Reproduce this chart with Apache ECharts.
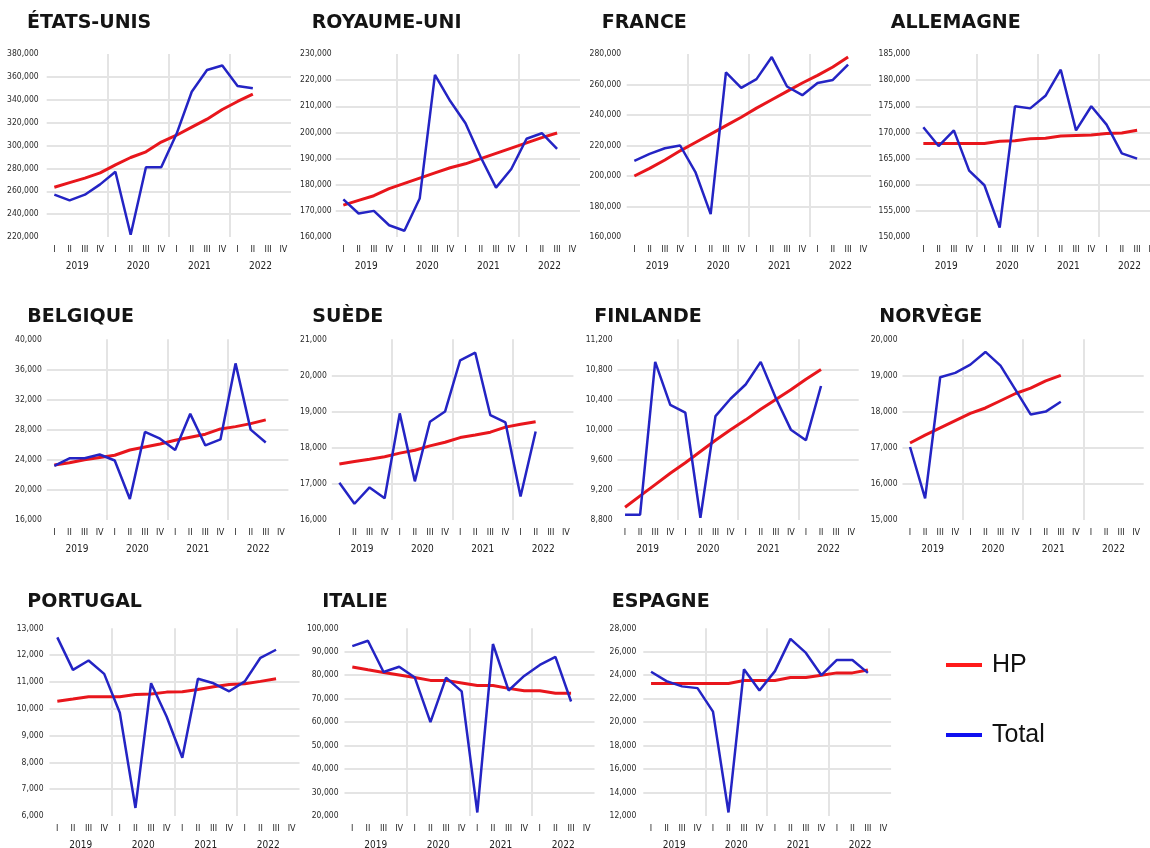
<!DOCTYPE html>
<html>
<head>
<meta charset="utf-8">
<script src="https://cdn.jsdelivr.net/npm/echarts@6/dist/echarts.min.js"></script>
<style>
  html, body { margin: 0; padding: 0; background: #ffffff; }
  #chart { width: 1150px; height: 848px; }
</style>
</head>
<body>
<div id="chart"></div>
<script>
// Quarter and year labels on the time axis
const quarterLabels = ['I', 'II', 'III', 'IV', 'I', 'II', 'III', 'IV', 'I', 'II', 'III', 'IV', 'I', 'II', 'III', 'IV'];
const yearLabels = ['2019', '2020', '2021', '2022'];
const seriesNames = ['HP', 'Total'];

// Quarterly values per country (Total = raw series, HP = Hodrick-Prescott trend)
const usTotal = [257000, 252000, 257000, 266000, 277000, 222000, 281000, 281000, 310000, 347000, 366000, 370000, 352000, 350000];
const usHp    = [263500, 267500, 271500, 276000, 283000, 289500, 294500, 303000, 309000, 316000, 323000, 331500, 338500, 345000];

const ukTotal = [174400, 169000, 170000, 164500, 162400, 174700, 222000, 212000, 203500, 190500, 178900, 186000, 197600, 199700, 193700];
const ukHp    = [172200, 174000, 175800, 178500, 180500, 182500, 184500, 186500, 188000, 190000, 192000, 194000, 196000, 198000, 199800];

const frTotal = [209900, 214500, 218200, 220000, 202600, 175000, 268000, 257800, 263500, 278000, 258700, 253000, 261000, 263000, 273000];
const frHp    = [200000, 205000, 210500, 216500, 222000, 227500, 233000, 238500, 244500, 250000, 255500, 261000, 266000, 271500, 278000];

const deTotal = [171000, 167400, 170400, 162700, 159900, 151800, 175000, 174600, 177000, 182000, 170400, 175000, 171500, 166000, 165000];
const deHp    = [167900, 167900, 167900, 167900, 167900, 168300, 168400, 168800, 168900, 169300, 169400, 169500, 169800, 169900, 170400];

const beTotal = [23200, 24200, 24200, 24700, 23900, 18800, 27700, 26800, 25300, 30100, 25900, 26700, 36800, 28000, 26300];
const beHp    = [23300, 23600, 24000, 24300, 24600, 25300, 25700, 26100, 26600, 27000, 27400, 28100, 28400, 28800, 29300];

const seTotal = [17030, 16450, 16900, 16600, 18950, 17070, 18720, 19000, 20420, 20630, 18900, 18700, 16650, 18450];
const seHp    = [17550, 17620, 17680, 17750, 17850, 17930, 18050, 18150, 18280, 18350, 18430, 18570, 18650, 18720];

const fiTotal = [8870, 8870, 10900, 10330, 10225, 8830, 10180, 10410, 10600, 10900, 10420, 10000, 9860, 10580];
const fiHp    = [8970, 9120, 9270, 9420, 9560, 9710, 9860, 10000, 10130, 10270, 10400, 10530, 10670, 10800];

const noTotal = [17020, 15600, 18950, 19070, 19300, 19650, 19270, 18600, 17920, 18000, 18270];
const noHp    = [17130, 17350, 17550, 17750, 17950, 18100, 18300, 18500, 18650, 18850, 19000];

const ptTotal = [12660, 11450, 11800, 11300, 9850, 6300, 10950, 9700, 8170, 11120, 10950, 10650, 11020, 11900, 12200];
const ptHp    = [10280, 10360, 10450, 10450, 10450, 10530, 10550, 10620, 10630, 10720, 10820, 10900, 10930, 11020, 11120];

const itTotal = [92400, 94700, 81400, 83600, 79000, 60000, 79000, 73100, 21500, 93300, 73500, 79700, 84400, 87800, 68800];
const itHp    = [83500, 82300, 81200, 80100, 79000, 77800, 77800, 76700, 75600, 75600, 74400, 73400, 73400, 72300, 72300];

const esTotal = [24300, 23500, 23050, 22900, 20900, 12300, 24500, 22700, 24350, 27100, 25900, 24000, 25300, 25300, 24200];
const esHp    = [23300, 23300, 23300, 23300, 23300, 23300, 23550, 23550, 23550, 23800, 23800, 24000, 24200, 24200, 24450];

// Panel definitions: title, series and value-axis range
const panels = [
  { title: 'ÉTATS-UNIS',  total: usTotal, hp: usHp, min: 220000, max: 380000, step: 20000 },
  { title: 'ROYAUME-UNI', total: ukTotal, hp: ukHp, min: 160000, max: 230000, step: 10000 },
  { title: 'FRANCE',      total: frTotal, hp: frHp, min: 160000, max: 280000, step: 20000 },
  { title: 'ALLEMAGNE',   total: deTotal, hp: deHp, min: 150000, max: 185000, step: 5000 },
  { title: 'BELGIQUE',    total: beTotal, hp: beHp, min: 16000,  max: 40000,  step: 4000 },
  { title: 'SUÈDE',       total: seTotal, hp: seHp, min: 16000,  max: 21000,  step: 1000 },
  { title: 'FINLANDE',    total: fiTotal, hp: fiHp, min: 8800,   max: 11200,  step: 400 },
  { title: 'NORVÈGE',     total: noTotal, hp: noHp, min: 15000,  max: 20000,  step: 1000 },
  { title: 'PORTUGAL',    total: ptTotal, hp: ptHp, min: 6000,   max: 13000,  step: 1000 },
  { title: 'ITALIE',      total: itTotal, hp: itHp, min: 20000,  max: 100000, step: 10000 },
  { title: 'ESPAGNE',     total: esTotal, hp: esHp, min: 12000,  max: 28000,  step: 2000 }
];

// Page layout of each small multiple (plot box, title anchor, label gap)
const layout = [
  { left: 46.7,  top: 54,    width: 244.3, height: 183,   tx: 27,    ty: 24,  gap: 8 },
  { left: 335.7, top: 54,    width: 244.3, height: 183,   tx: 311.7, ty: 24,  gap: 4 },
  { left: 626.7, top: 54,    width: 244.3, height: 183,   tx: 601.7, ty: 24,  gap: 5.5 },
  { left: 915.7, top: 54,    width: 244.3, height: 183,   tx: 890.7, ty: 24,  gap: 5.5 },
  { left: 46.8,  top: 339.3, width: 241.6, height: 180.7, tx: 27.3,  ty: 318, gap: 5 },
  { left: 331.8, top: 339.3, width: 241.6, height: 180.7, tx: 312.3, ty: 318, gap: 5 },
  { left: 617.5, top: 339.3, width: 241.2, height: 180.7, tx: 594.3, ty: 318, gap: 5 },
  { left: 902.5, top: 339.3, width: 241.2, height: 180.7, tx: 879.3, ty: 318, gap: 5 },
  { left: 49.5,  top: 628.3, width: 250,   height: 187.7, tx: 27.3,  ty: 603, gap: 6 },
  { left: 344.5, top: 628.3, width: 250,   height: 187.7, tx: 322.3, ty: 603, gap: 6 },
  { left: 643.3, top: 628.3, width: 247.8, height: 187.7, tx: 611.7, ty: 603, gap: 7 }
];

const RED = '#e8161c';
const BLUE = '#2424c4';
const GRID_GREY = '#e4e4e4';
const NARROW = '"DejaVu Sans Condensed", "Liberation Sans Narrow", sans-serif';
const TITLE_SIZE = 19;

const fmt = v => String(v).replace(/\B(?=(\d{3})+(?!\d))/g, ',');

const option = {
  backgroundColor: '#ffffff',
  animation: false,
  title: [],
  grid: [],
  xAxis: [],
  yAxis: [],
  series: [],
  legend: {
    orient: 'vertical',
    left: 941,
    top: 645,
    itemWidth: 36,
    itemHeight: 4,
    itemGap: 40,
    icon: 'rect',
    data: [
      { name: seriesNames[0], itemStyle: { color: '#ff1a1a' } },
      { name: seriesNames[1], itemStyle: { color: '#1010f0' } }
    ],
    textStyle: {
      fontFamily: '"Liberation Sans", Arial, sans-serif',
      fontSize: 25,
      lineHeight: 30,
      color: '#111',
      padding: [0, 0, 0, 5]
    }
  }
};

panels.forEach((p, i) => {
  const L = layout[i];
  option.title.push({
    text: p.title,
    left: L.tx,
    top: L.ty - TITLE_SIZE / 2 - 1,
    padding: 0,
    textStyle: {
      fontFamily: '"DejaVu Sans", sans-serif',
      fontWeight: 'bold',
      fontSize: TITLE_SIZE,
      lineHeight: TITLE_SIZE,
      color: '#141414'
    }
  });

  option.grid.push({
    left: L.left,
    top: L.top,
    width: L.width,
    height: L.height,
    containLabel: false,
    outerBoundsMode: 'none'
  });

  // quarter axis
  option.xAxis.push({
    type: 'category',
    gridIndex: i,
    data: quarterLabels,
    boundaryGap: true,
    axisLine: { show: false },
    axisTick: { show: false },
    axisLabel: {
      interval: 0,
      margin: 8,
      fontFamily: NARROW,
      fontSize: 9,
      color: '#222'
    },
    splitLine: { show: false }
  });
  // year row under the quarters
  option.xAxis.push({
    type: 'category',
    gridIndex: i,
    position: 'bottom',
    offset: 16,
    data: yearLabels,
    boundaryGap: true,
    axisLine: { show: false },
    axisTick: { show: false },
    splitLine: { show: false },
    axisLabel: {
      interval: 0,
      margin: 8,
      fontFamily: NARROW,
      fontSize: 10,
      color: '#222'
    }
  });
  // silent quarter-count axis that draws the year separators
  option.xAxis.push({
    type: 'value',
    gridIndex: i,
    position: 'top',
    min: 0,
    max: quarterLabels.length,
    interval: 4,
    axisLine: { show: false },
    axisTick: { show: false },
    axisLabel: { show: false },
    splitLine: {
      show: true,
      showMinLine: false,
      showMaxLine: false,
      lineStyle: { color: GRID_GREY, width: 2 }
    }
  });

  option.yAxis.push({
    type: 'value',
    gridIndex: i,
    min: p.min,
    max: p.max,
    interval: p.step,
    axisLine: { show: false },
    axisTick: { show: false },
    axisLabel: {
      margin: L.gap,
      fontFamily: NARROW,
      fontSize: 8.5,
      color: '#2a2a2a',
      formatter: fmt
    },
    splitLine: {
      show: true,
      showMinLine: false,
      showMaxLine: false,
      lineStyle: { color: GRID_GREY, width: 2 }
    }
  });

  option.series.push({
    name: seriesNames[0],
    type: 'line',
    xAxisIndex: i * 3,
    yAxisIndex: i,
    data: p.hp,
    symbol: 'none',
    lineStyle: { color: RED, width: 3 },
    itemStyle: { color: RED }
  });
  option.series.push({
    name: seriesNames[1],
    type: 'line',
    xAxisIndex: i * 3,
    yAxisIndex: i,
    data: p.total,
    symbol: 'none',
    lineStyle: { color: BLUE, width: 2.5 },
    itemStyle: { color: BLUE }
  });
});

const chart = echarts.init(document.getElementById('chart'), null, { renderer: 'canvas' });
chart.setOption(option);
</script>
</body>
</html>
